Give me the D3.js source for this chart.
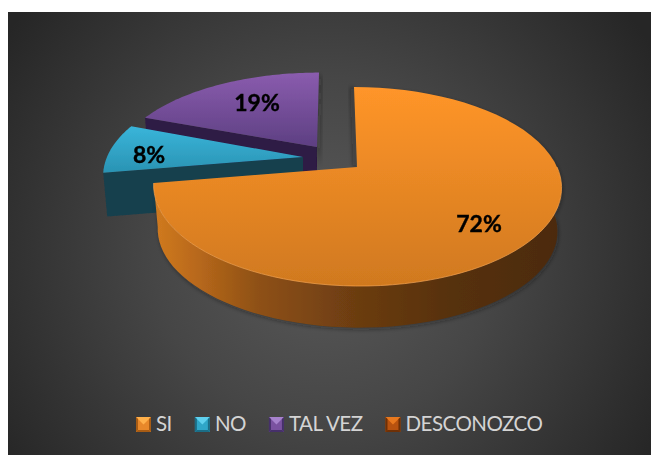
<!DOCTYPE html>
<html><head><meta charset="utf-8">
<script src="https://cdn.jsdelivr.net/npm/d3@7/dist/d3.min.js"></script>
<style>html,body{margin:0;padding:0;background:#fff}svg{display:block}</style>
</head><body><svg id="c" width="651" height="455"></svg>
<script>
const categories = ["SI","NO","TAL VEZ","DESCONOZCO"];
const percentValues = [72.4,8.3,19.3,0];
const topColors = [["#ff9529","#d0791f"],["#39b5da","#2a93b3"],["#8a5cae","#5d3f82"],["#c0590c","#c0590c"]];
const wallColors = ["#5a3310","#153f4e","#2e1a44","#6a3208"];
const legendFill = ["#e8882a","#2fa6c8","#7a52a0","#b8520f"];
const legendLight = ["#ffb04a","#5fd0ee","#a682cc","#e8781e"];
const legendDark = ["#a85c14","#1b6d86","#46306a","#6e3006"];
const apexX = [357,303,317,340], apexY = [167,157,147,150], skew = [3,0,-2,0];
const sizeX = [1,0.98,0.985,1], sizeY = [1,0.98,0.93,1];

const W=651,H=455,R=200,A=95.7,C=0.196,DEPTH=44,SHRINK=0.98;
const svg=d3.select("#c");
const defs=svg.append("defs");
const bg=defs.append("radialGradient").attr("id","bg").attr("gradientUnits","userSpaceOnUse")
  .attr("cx",325).attr("cy",250).attr("r",385);
bg.append("stop").attr("offset",0).attr("stop-color","#5a5a5a");
bg.append("stop").attr("offset",0.45).attr("stop-color","#464646");
bg.append("stop").attr("offset",1).attr("stop-color","#262626");
defs.append("filter").attr("id","soft").append("feGaussianBlur").attr("stdDeviation",0.5);
const sh=defs.append("filter").attr("id","shadow").attr("x","-20%").attr("y","-20%").attr("width","140%").attr("height","140%");
sh.append("feGaussianBlur").attr("stdDeviation",2);

svg.append("rect").attr("x",8).attr("y",12).attr("width",W-8).attr("height",H-12).attr("fill","url(#bg)");

const pie=d3.pie().sort(null).value(d=>d);
const arcs=pie(percentValues);

function proj(i,a,rad,z){
  const X=Math.sin(a)*rad,u=-Math.cos(a)*rad,d=1-C*u;
  const sc=z?SHRINK:1;
  return [apexX[i]+skew[i]*u+(R*sizeX[i]*X/d)*sc,
          apexY[i]+(A*sizeY[i]*u/d)*sc+(z?DEPTH:0)];
}
const line=d3.line();
function samples(a0,a1){return d3.range(0,61).map(t=>a0+(a1-a0)*t/60);}
function topPath(i,a){
  return line([proj(i,0,0,false),...samples(a.startAngle,a.endAngle).map(t=>proj(i,t,1,false))])+"Z";
}
function outerWall(i,a0,a1){
  const ts=samples(a0,a1);
  return line([...ts.map(t=>proj(i,t,1,false)),...ts.slice().reverse().map(t=>proj(i,t,1,true))])+"Z";
}
function radialWall(i,t){
  return line([proj(i,t,1,false),proj(i,0,0,false),proj(i,0,0,true),proj(i,t,1,true)])+"Z";
}

arcs.forEach((a,i)=>{
  const g=defs.append("linearGradient").attr("id","top"+i).attr("x1",0).attr("y1",0).attr("x2",0).attr("y2",1);
  g.append("stop").attr("offset",0).attr("stop-color",topColors[i][0]);
  g.append("stop").attr("offset",1).attr("stop-color",topColors[i][1]);
});
const wg=defs.append("linearGradient").attr("id","wallO").attr("gradientUnits","userSpaceOnUse").attr("x1",155).attr("x2",560).attr("y1",0).attr("y2",0);
[[0,"#d07a20"],[0.1,"#b9691b"],[0.25,"#8f5115"],[0.5,"#6b3c11"],[0.75,"#55300f"],[1,"#4c2b0d"]].forEach(s=>wg.append("stop").attr("offset",s[0]).attr("stop-color",s[1]));

const chart=svg.append("g").attr("filter","url(#soft)");
[2,1,0].forEach(i=>{
  const a=arcs[i];
  const g=chart.append("g");
  if(i===0){
    g.append("path").attr("d",outerWall(i,a.startAngle+0.1,a.endAngle)).attr("transform","translate(1,2)").attr("fill","#1c1c1c").attr("opacity",0.4).attr("filter","url(#shadow)");
    const q=proj(0,0,0,false),p=proj(0,0,1,false);
    g.append("path").attr("d",line([p,q,[q[0]-4,q[1]],[p[0]-4,p[1]]])+"Z").attr("fill","#1c1c1c").attr("opacity",0.4).attr("filter","url(#shadow)");
    g.append("path").attr("d",outerWall(i,Math.PI*0.5,a.endAngle)).attr("fill","url(#wallO)");
  } else {
    g.append("path").attr("d",radialWall(i,a.startAngle)).attr("fill",wallColors[i]);
    if(i===2){
      const p=proj(i,a.endAngle,1,false),q=proj(i,0,0,false);
      g.append("path").attr("d",line([p,q,[q[0]+3,q[1]+20],[p[0]+3,p[1]+6]])+"Z").attr("fill","#1c1c1c").attr("opacity",0.35).attr("filter","url(#shadow)");
    }
  }
  g.append("path").attr("d",topPath(i,a)).attr("fill",`url(#top${i})`);
  if(i===0){
    const ts=samples(Math.PI*0.5,a.endAngle).map(t=>proj(i,t,1,false));
    g.append("path").attr("d",line(ts)).attr("fill","none").attr("stroke","#f9a24a").attr("stroke-width",1).attr("opacity",0.7);
  }
});

const labelPos=[[479,232],[149,163],[257,111]];
chart.append("g").selectAll("text").data(arcs.slice(0,3)).join("text")
  .attr("x",(d,i)=>labelPos[i][0]).attr("y",(d,i)=>labelPos[i][1])
  .attr("text-anchor","middle").attr("font-family","Lato, sans-serif").attr("font-weight",700).attr("font-size",23)
  .attr("fill","#000").attr("stroke","#000").attr("stroke-width",0.4)
  .text(d=>Math.round(d.data)+"%");

const lg=svg.append("g");
let lx=136;
categories.forEach((c,i)=>{
  const s=15,y=417,x=lx,m=[x+s/2,y+s/2];
  const quad=(pts,f)=>lg.append("path").attr("d",line(pts)+"Z").attr("fill",f);
  const a=[x,y],b=[x+s,y],c2=[x+s,y+s],d=[x,y+s];
  quad([a,b,c2,d],legendFill[i]);
  quad([a,b,m],legendLight[i]);
  quad([d,c2,[x+s-2,y+s-2],[x+2,y+s-2]],legendDark[i]);
  quad([a,[x+2,y+2],[x+2,y+s-2],d],legendDark[i]);
  quad([b,[x+s-2,y+2],[x+s-2,y+s-2],c2],legendDark[i]);
  const t=lg.append("text").attr("x",x+s+5).attr("y",431).attr("font-family","Lato, sans-serif").attr("font-size",20.5).attr("letter-spacing",-0.5).attr("fill","#d4d4d4").text(c);
  lx=x+s+5+t.node().getComputedTextLength()+23;
});
</script></body></html>
